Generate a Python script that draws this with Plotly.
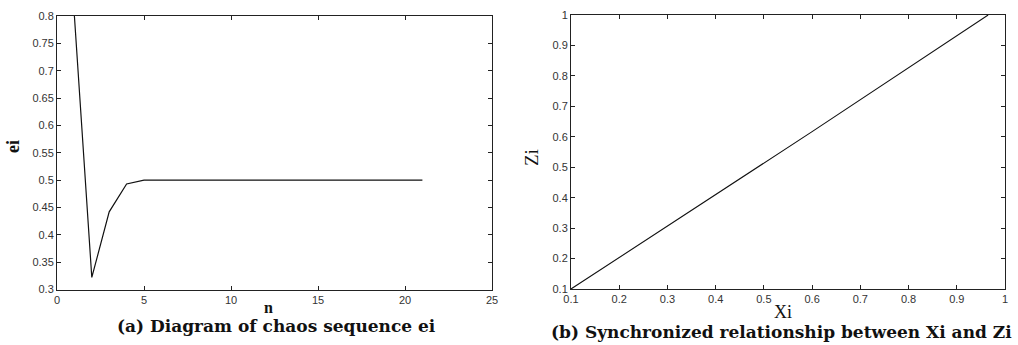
import plotly.graph_objects as go

# ---- data (a) ----
n_vals = [1, 2, 3, 4, 5, 6, 7, 8, 9, 10, 11, 12, 13, 14, 15, 16, 17, 18, 19, 20, 21]
ei_vals = [0.8, 0.322, 0.442, 0.493, 0.5, 0.5, 0.5, 0.5, 0.5, 0.5, 0.5, 0.5,
           0.5, 0.5, 0.5, 0.5, 0.5, 0.5, 0.5, 0.5, 0.5]
a_xticks = [0, 5, 10, 15, 20, 25]
a_xtext = ["0", "5", "10", "15", "20", "25"]
a_yticks = [0.3, 0.35, 0.4, 0.45, 0.5, 0.55, 0.6, 0.65, 0.7, 0.75, 0.8]
a_ytext = ["0.3", "0.35", "0.4", "0.45", "0.5", "0.55", "0.6", "0.65", "0.7", "0.75", "0.8"]

# ---- data (b) ----
xi_vals = [0.1, 0.6, 0.965]
zi_vals = [0.1, 0.617, 1.0]
b_ticks = [0.1, 0.2, 0.3, 0.4, 0.5, 0.6, 0.7, 0.8, 0.9, 1.0]
b_text = ["0.1", "0.2", "0.3", "0.4", "0.5", "0.6", "0.7", "0.8", "0.9", "1"]

W, H = 1018, 345


def px_x(p):
    return p / W


def px_y(p):
    return 1 - p / H


fig = go.Figure()
fig.add_trace(go.Scatter(x=n_vals, y=ei_vals, mode="lines",
                         line=dict(color="#111111", width=1.2),
                         xaxis="x", yaxis="y", showlegend=False))
fig.add_trace(go.Scatter(x=xi_vals, y=zi_vals, mode="lines",
                         line=dict(color="#111111", width=1.1),
                         xaxis="x2", yaxis="y2", showlegend=False))

tickfont = dict(family="Liberation Sans, Arial, sans-serif", size=11, color="#333333")
axis_common = dict(showgrid=False, zeroline=False, showline=True, linecolor="#222222",
                   linewidth=1, mirror="ticks", ticks="inside", ticklen=4,
                   tickcolor="#222222", tickfont=tickfont, tickmode="array",
                   automargin=False)

fig.update_layout(
    width=W, height=H,
    margin=dict(l=0, r=0, t=0, b=0),
    paper_bgcolor="white", plot_bgcolor="white",
    xaxis=dict(domain=[px_x(57), px_x(492)], range=[0, 25], anchor="y",
               tickvals=a_xticks, ticktext=a_xtext, **axis_common),
    yaxis=dict(domain=[px_y(289.5), px_y(16)], range=[0.3, 0.8], anchor="x",
               tickvals=a_yticks, ticktext=a_ytext, **axis_common),
    xaxis2=dict(domain=[px_x(571), px_x(1005)], range=[0.1, 1.0], anchor="y2",
                tickvals=b_ticks, ticktext=b_text, **axis_common),
    yaxis2=dict(domain=[px_y(289), px_y(15)], range=[0.1, 1.0], anchor="x2",
                tickvals=b_ticks, ticktext=b_text, **axis_common),
)

serif = "Liberation Serif, Times New Roman, serif"
wide_serif = "DejaVu Serif, serif"


def label(text, x, y, size, angle=0, bold=True, family=serif):
    t = f"<b>{text}</b>" if bold else text
    fig.add_annotation(text=t, x=px_x(x), y=px_y(y), xref="paper", yref="paper",
                       showarrow=False, textangle=angle, xanchor="center", yanchor="middle",
                       font=dict(family=family, size=size, color="#111111"))


label("n", 268, 307, 16)
label("ei", 13, 147, 18, angle=-90)
label("Zi", 532, 158, 19, angle=-90, bold=False)
label("Xi", 783, 312, 18, bold=False)
label("(a) Diagram of chaos sequence ei", 276, 326, 17, family=wide_serif)
label("(b) Synchronized relationship between Xi and Zi", 781, 332, 17, family=wide_serif)

fig.write_html(
    "out.html",
    config={"displayModeBar": False},
    post_script="document.body.style.margin='0';document.body.style.overflow='hidden';",
)
